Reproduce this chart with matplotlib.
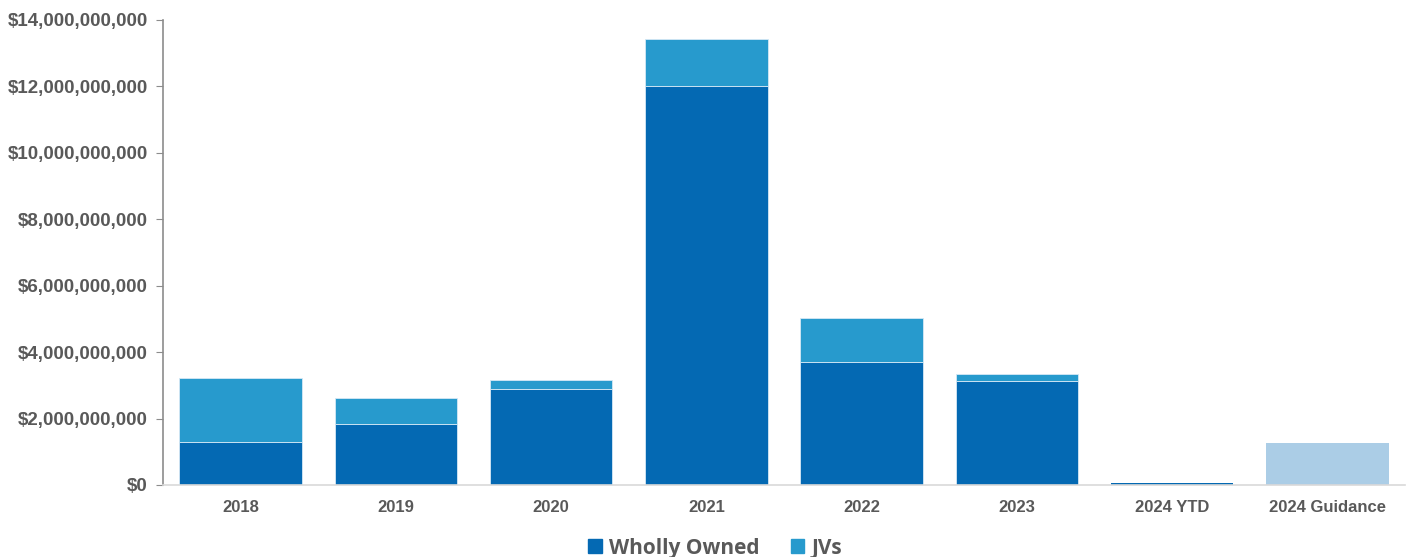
import matplotlib

matplotlib.use("Agg")
import matplotlib.pyplot as plt
from matplotlib.patches import Patch
from matplotlib.ticker import FuncFormatter

# values in $ billions
categories = ["2018", "2019", "2020", "2021", "2022", "2023", "2024 YTD", "2024 Guidance"]
wholly_owned = [1.29, 1.84, 2.89, 12.02, 3.70, 3.13, 0.07, 0.0]
jvs = [1.93, 0.78, 0.27, 1.41, 1.33, 0.21, 0.0, 0.0]
guidance = [0, 0, 0, 0, 0, 0, 0, 1.27]

WO = "#0469b3"
JV = "#279acd"
GUIDE = "#abcde6"
INK = "#595959"
OUTLINE = "#d6e8f5"

plt.rcParams["font.family"] = ["Liberation Sans", "DejaVu Sans"]

fig = plt.figure(figsize=(14.08, 5.57), dpi=100)
ax = fig.add_axes([0.1158, 0.1293, 0.8821, 0.8348])

x = range(len(categories))
w = 0.79
# thin light outline on the real bars only; empty / tiny bars get none
wo_edges = [OUTLINE if v > 0.5 else "none" for v in wholly_owned]
jv_edges = [OUTLINE if v > 0 else "none" for v in jvs]
ax.bar(x, wholly_owned, w, color=WO, edgecolor=wo_edges, linewidth=0.6)
ax.bar(x, jvs, w, bottom=wholly_owned, color=JV, edgecolor=jv_edges, linewidth=0.6)
ax.bar(x, guidance, w, color=GUIDE, linewidth=0)

ax.set_xlim(-0.5, len(categories) - 0.5)
ax.set_ylim(0, 14)
ax.set_yticks(range(0, 15, 2))
ax.yaxis.set_major_formatter(FuncFormatter(lambda v, _: f"${v * 1e9:,.0f}"))
ax.set_xticks(list(x), categories)

ax.tick_params(axis="y", length=5, color="#8c8c8c", labelsize=13.5,
               labelcolor=INK, pad=6)
ax.tick_params(axis="x", length=0, labelsize=12, labelcolor=INK, pad=11)
for lbl in ax.get_xticklabels() + ax.get_yticklabels():
    lbl.set_fontweight("bold")

for s in ("top", "right"):
    ax.spines[s].set_visible(False)
ax.spines["left"].set_color("#8c8c8c")
ax.spines["left"].set_linewidth(1.2)
ax.spines["bottom"].set_color("#d9d9d9")
ax.spines["bottom"].set_linewidth(1.2)

handles = [Patch(color=WO, label="Wholly Owned"), Patch(color=JV, label="JVs")]
fig.legend(handles=handles, loc="center", bbox_to_anchor=(0.508, 0.016), ncol=2,
           frameon=False, handlelength=0.65, handleheight=0.65, handletextpad=0.35,
           columnspacing=1.5,
           prop={"family": ["Open Sans", "DejaVu Sans"], "weight": "bold", "size": 15})
for t in fig.legends[0].get_texts():
    t.set_color(INK)

fig.savefig("out.png", dpi=100)
